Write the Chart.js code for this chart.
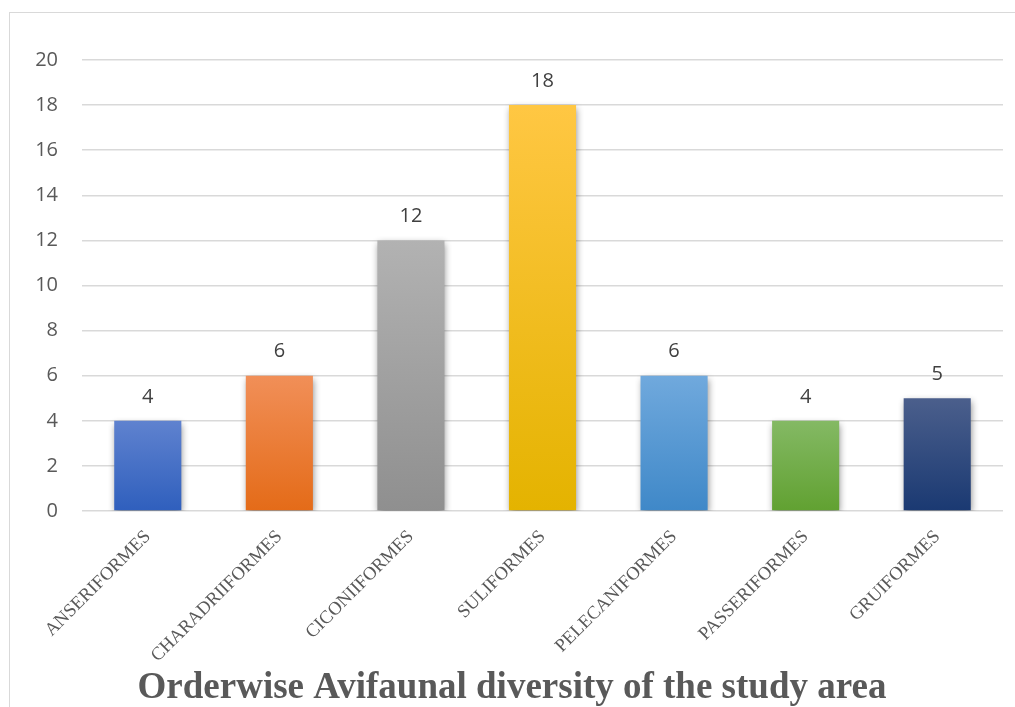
<!DOCTYPE html>
<html>
<head>
<meta charset="utf-8">
<script src="https://cdn.jsdelivr.net/npm/chart.js@4/dist/chart.umd.min.js"></script>
<style>
  html, body { margin: 0; padding: 0; background: #fff; overflow: hidden; }
  #wrap { position: relative; width: 1015px; height: 707px; }
  #frame {
    position: absolute; left: 9px; top: 12px; width: 1200px; height: 900px;
    border-left: 1.5px solid #d9d9d9; border-top: 1.5px solid #d9d9d9;
    pointer-events: none;
  }
  canvas { position: absolute; left: 0; top: 0; }
</style>
</head>
<body>
<div id="wrap">
  <canvas id="c" width="1015" height="707"></canvas>
  <div id="frame"></div>
</div>
<script>
// Bird orders and number of species recorded in each
const categories = ['ANSERIFORMES', 'CHARADRIIFORMES', 'CICONIIFORMES', 'SULIFORMES',
                    'PELECANIFORMES', 'PASSERIFORMES', 'GRUIFORMES'];
const speciesCount = [4, 6, 12, 18, 6, 4, 5];
const yTicks = [0, 2, 4, 6, 8, 10, 12, 14, 16, 18, 20];

// Gradient colours per bar (light at top, deeper at base)
const barTop    = ['#5f82cf', '#f18f58', '#b2b2b2', '#ffc743', '#70a9dd', '#84b964', '#4b5f8c'];
const barBottom = ['#2f5fbd', '#e46b18', '#8f8f8f', '#e4b300', '#3f88c8', '#61a131', '#1a3972'];

function barFill(ctx) {
  const chart = ctx.chart;
  const i = ctx.dataIndex;
  if (!chart.chartArea || !chart.scales.y) return barBottom[i];
  const y = chart.scales.y;
  const top = y.getPixelForValue(ctx.raw);
  const base = y.getPixelForValue(0);
  const g = chart.ctx.createLinearGradient(0, top, 0, base);
  g.addColorStop(0, barTop[i]);
  g.addColorStop(1, barBottom[i]);
  return g;
}

// Soft drop shadow beneath the bars
const barShadow = {
  id: 'barShadow',
  beforeDatasetDraw(chart) {
    const c = chart.ctx;
    c.save();
    c.shadowColor = 'rgba(0,0,0,0.45)';
    c.shadowBlur = 7;
    c.shadowOffsetX = 1;
    c.shadowOffsetY = 3;
  },
  afterDatasetDraw(chart) {
    chart.ctx.restore();
  }
};

// Count written above each bar
const valueLabels = {
  id: 'valueLabels',
  afterDatasetsDraw(chart) {
    const c = chart.ctx;
    const meta = chart.getDatasetMeta(0);
    c.save();
    c.font = '20px "Open Sans", sans-serif';
    c.fillStyle = '#404040';
    c.textAlign = 'center';
    c.textBaseline = 'middle';
    meta.data.forEach((bar, i) => {
      c.fillText(String(speciesCount[i]), bar.x, bar.y - 24);
    });
    c.restore();
  }
};

new Chart(document.getElementById('c'), {
  type: 'bar',
  data: {
    labels: categories,
    datasets: [{
      data: speciesCount,
      backgroundColor: barFill,
      borderWidth: 0,
      categoryPercentage: 1,
      barPercentage: 0.51
    }]
  },
  options: {
    responsive: false,
    animation: false,
    devicePixelRatio: 1,
    layout: { padding: { left: 21, right: 12, top: 60, bottom: 0 } },
    plugins: {
      legend: { display: false },
      tooltip: { enabled: false },
      title: {
        display: true,
        position: 'bottom',
        text: 'Orderwise Avifaunal diversity of the study area',
        color: '#595959',
        font: { family: '"Liberation Serif", "Times New Roman", serif', size: 37, weight: 'bold', lineHeight: 1.0 },
        padding: { top: 0, bottom: 0 }
      }
    },
    scales: {
      x: {
        grid: { display: false },
        border: { display: false },
        ticks: {
          color: '#595959',
          minRotation: 45,
          maxRotation: 45,
          padding: 7,
          autoSkip: false,
          font: { family: '"Liberation Serif", "Times New Roman", serif', size: 18.5 }
        },
        afterFit(s) { s.height = 159; }
      },
      y: {
        min: 0,
        max: 20,
        afterBuildTicks(s) { s.ticks = yTicks.map(v => ({ value: v })); },
        grid: { color: '#d9d9d9', lineWidth: 1.5, drawTicks: false },
        border: { display: false },
        ticks: {
          color: '#595959',
          padding: 24,
          font: { family: '"Open Sans", sans-serif', size: 20 }
        },
        afterFit(s) { s.width = 61; }
      }
    }
  },
  plugins: [barShadow, valueLabels]
});
</script>
</body>
</html>
